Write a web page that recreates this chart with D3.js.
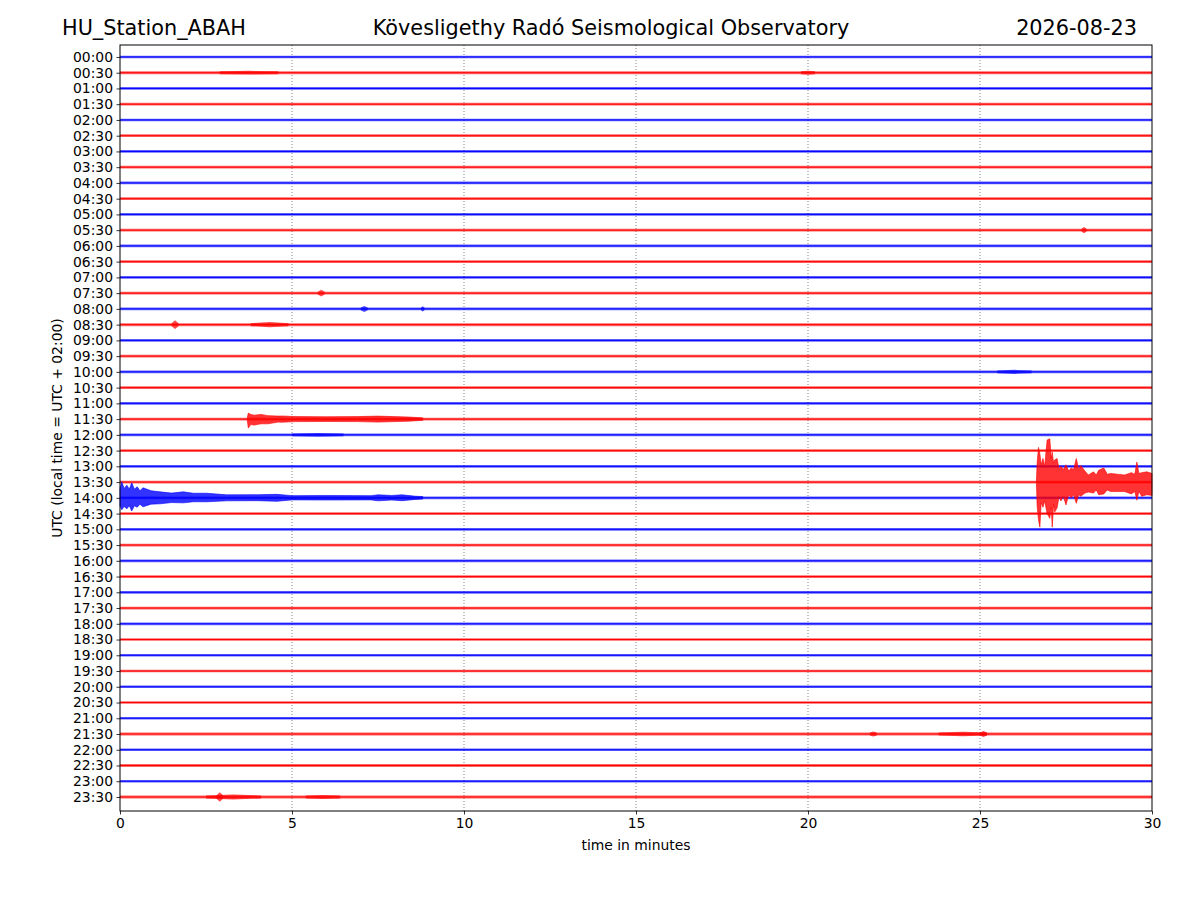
<!DOCTYPE html>
<head>
  <meta charset="utf-8">
  <style>
    body { margin: 0; background: #fff; }
    svg { font-family: "DejaVu Sans", sans-serif; }
    .title { font-size: 20.8px; fill: #000; }
    .tick text { font-family: "DejaVu Sans", sans-serif; font-size: 13.9px; fill: #000; }
    .lbl { font-size: 13.9px; fill: #000; }
    .grid line { stroke: #000; stroke-width: 0.6px; stroke-dasharray: 1,2; opacity: 0.8; }
  </style>
</head>
<body>
  <svg></svg>
  <script src="https://d3js.org/d3.v7.min.js"></script>
  <script type="text/javascript">
  // one trace per half hour
  const traceLabels = [
    "00:00","00:30","01:00","01:30","02:00","02:30","03:00","03:30",
    "04:00","04:30","05:00","05:30","06:00","06:30","07:00","07:30",
    "08:00","08:30","09:00","09:30","10:00","10:30","11:00","11:30",
    "12:00","12:30","13:00","13:30","14:00","14:30","15:00","15:30",
    "16:00","16:30","17:00","17:30","18:00","18:30","19:00","19:30",
    "20:00","20:30","21:00","21:30","22:00","22:30","23:00","23:30"
  ];
  const traceColors = ["#0000ff", "#ff0000"];

  // background noise half-width of each trace, in units of trace spacing
  const noiseLevel = [
    0.085,0.095,0.09,0.09,0.08,0.09,0.085,0.085,
    0.085,0.09,0.085,0.09,0.085,0.09,0.09,0.09,
    0.085,0.095,0.085,0.09,0.09,0.085,0.085,0.09,
    0.09,0.085,0.085,0.085,0.09,0.085,0.085,0.09,
    0.085,0.085,0.085,0.09,0.085,0.085,0.085,0.085,
    0.08,0.085,0.085,0.09,0.085,0.09,0.085,0.09
  ];

  // envelopes of the larger events: [minute, up, down]
  const event1330 = [
    [26.64,0.08,0.08],[26.66,1.2,1.5],[26.7,2.2,2.4],[26.74,1.8,2.86],
    [26.78,1.1,1.3],[26.83,1.5,1.6],[26.88,1.0,1.2],[26.95,2.67,2.0],
    [27.03,2.75,2.3],[27.07,1.5,1.6],[27.1,1.9,2.86],[27.14,1.2,1.4],
    [27.17,1.4,1.9],[27.24,1.5,1.65],[27.3,0.8,0.9],[27.35,1.0,1.2],
    [27.42,0.8,0.9],[27.5,1.1,1.45],[27.58,0.7,0.8],[27.65,0.9,1.0],
    [27.72,0.8,0.8],[27.8,1.5,1.35],[27.87,0.8,0.8],[27.93,1.05,0.9],
    [28.05,0.7,0.7],[28.15,0.45,0.63],[28.3,0.65,0.7],[28.38,0.45,0.5],
    [28.45,0.75,0.8],[28.6,0.9,0.75],[28.7,0.5,0.5],[28.8,0.55,0.6],
    [29.0,0.5,0.6],[29.2,0.45,0.6],[29.4,0.6,0.75],[29.5,0.5,0.6],
    [29.56,1.27,1.15],[29.62,0.55,0.6],[29.7,0.6,0.9],[29.85,0.65,0.8],
    [30,0.55,0.85]
  ];
  const event1400 = [
    [0.0,0.6,0.5],[0.05,1.02,0.76],[0.12,0.6,0.55],[0.2,0.8,0.7],
    [0.27,0.55,0.5],[0.34,0.95,0.83],[0.42,0.55,0.5],[0.5,0.7,0.6],
    [0.58,0.45,0.4],[0.67,0.64,0.57],[0.9,0.45,0.4],[1.16,0.38,0.38],
    [1.5,0.3,0.3],[1.84,0.38,0.32],[2.13,0.29,0.25],[2.52,0.29,0.25],
    [3.1,0.19,0.19],[4.0,0.2,0.18],[4.56,0.22,0.22],[5.0,0.14,0.13],
    [6.0,0.15,0.14],[7.3,0.14,0.13],[7.5,0.19,0.19],[7.9,0.15,0.14],
    [8.2,0.19,0.18],[8.6,0.1,0.1],[8.8,0.08,0.08]
  ];
  const event1130 = [
    [3.7,0.08,0.08],[3.73,0.38,0.57],[3.8,0.3,0.35],[3.9,0.25,0.38],
    [4.1,0.3,0.3],[4.3,0.22,0.3],[4.6,0.19,0.19],[4.7,0.2,0.2],
    [5.1,0.16,0.16],[6.0,0.15,0.15],[6.9,0.16,0.16],[7.5,0.19,0.19],
    [8.4,0.13,0.13],[8.8,0.08,0.08]
  ];
  const events = [
    {trace: 27, env: event1330},
    {trace: 28, env: event1400},
    {trace: 23, env: event1130}
  ];

  // short bursts: [trace, start minute, end minute, peak]
  const bursts = [
    [15, 5.75, 5.95, 0.22],
    [16, 7.0, 7.2, 0.19],
    [16, 8.75, 8.85, 0.16],
    [17, 1.5, 1.7, 0.28],
    [17, 3.8, 4.9, 0.17],
    [11, 27.95, 28.1, 0.2],
    [47, 2.5, 4.1, 0.16],
    [47, 2.8, 3.0, 0.3],
    [47, 5.4, 6.4, 0.13],
    [43, 21.8, 22.0, 0.16],
    [43, 23.8, 25.2, 0.14],
    [43, 25.0, 25.2, 0.19],
    [1, 2.9, 4.6, 0.12],
    [1, 19.8, 20.2, 0.13],
    [24, 5.0, 6.5, 0.12],
    [20, 25.5, 26.5, 0.13]
  ];

  const xTicks = [0, 5, 10, 15, 20, 25, 30];

  const width = 1200, height = 900;
  const svg = d3.select('svg').attr('width', width).attr('height', height);

  const x = d3.scaleLinear().domain([0, 30]).range([120, 1152]);
  const y = d3.scaleLinear().domain([-0.76, 47.89]).range([45, 811]);

  // grid
  svg.append('g').classed('grid', true)
    .selectAll('line')
    .data(xTicks.slice(1, -1))
    .enter().append('line')
      .attr('x1', d => x(d)).attr('x2', d => x(d))
      .attr('y1', y.range()[0]).attr('y2', y.range()[1]);

  const traces = svg.append('g').classed('traces', true);

  const band = d3.area()
    .x(d => x(d[0]))
    .y0(d => y(d[3] + d[2]))
    .y1(d => y(d[3] - d[1]));

  traceLabels.forEach(function(lab, i) {
    let c = traceColors[i % 2];
    let n = noiseLevel[i];
    traces.append('path')
      .attr('d', band([[0, n, n, i], [30, n, n, i]]))
      .attr('fill', c).attr('fill-opacity', 0.6);
    traces.append('line')
      .attr('x1', x(0)).attr('x2', x(30))
      .attr('y1', y(i)).attr('y2', y(i))
      .attr('stroke', c).attr('stroke-width', 1);
  });

  bursts.forEach(function(b) {
    let i = b[0], n = noiseLevel[i];
    let pts = [[b[1], n, n, i], [(b[1] + b[2]) / 2, b[3], b[3], i], [b[2], n, n, i]];
    traces.append('path')
      .attr('d', band(pts))
      .attr('fill', traceColors[i % 2]).attr('fill-opacity', 0.7);
  });

  events.forEach(function(e) {
    let pts = e.env.map(p => [p[0], p[1], p[2], e.trace]);
    traces.append('path')
      .attr('d', band(pts))
      .attr('fill', traceColors[e.trace % 2]).attr('fill-opacity', 0.8)
      .attr('stroke', traceColors[e.trace % 2]).attr('stroke-width', 0.6);
  });

  // axes
  const xAxis = d3.axisBottom(x).tickValues(xTicks).tickSize(3.5).tickPadding(3.5).tickFormat(d3.format('d'));
  const yAxis = d3.axisLeft(y).tickValues(d3.range(traceLabels.length)).tickSize(3.5).tickPadding(3.5)
    .tickFormat(i => traceLabels[i]);

  svg.append('g').attr('transform', 'translate(0,' + y.range()[1] + ')').call(xAxis)
    .call(g => g.attr('font-family', null).attr('font-size', null))
    .call(g => g.select('.domain').remove());
  svg.append('g').attr('transform', 'translate(' + x.range()[0] + ',0)').call(yAxis)
    .call(g => g.attr('font-family', null).attr('font-size', null))
    .call(g => g.select('.domain').remove());
  svg.selectAll('.tick line').attr('stroke', '#000').attr('stroke-width', 0.8);

  svg.append('rect')
    .attr('x', x.range()[0]).attr('y', y.range()[0])
    .attr('width', x.range()[1] - x.range()[0]).attr('height', y.range()[1] - y.range()[0])
    .attr('fill', 'none').attr('stroke', '#000').attr('stroke-width', 1);

  // titles
  svg.append('text').classed('title', true).attr('x', 62).attr('y', 35).text('HU_Station_ABAH');
  svg.append('text').classed('title', true).attr('x', 611).attr('y', 35).attr('text-anchor', 'middle')
    .text('Kövesligethy Radó Seismological Observatory');
  svg.append('text').classed('title', true).attr('x', 1137).attr('y', 35).attr('text-anchor', 'end')
    .text('2026-08-23');

  svg.append('text').classed('lbl', true).attr('x', 636).attr('y', 850).attr('text-anchor', 'middle')
    .text('time in minutes');
  svg.append('text').classed('lbl', true).attr('text-anchor', 'middle')
    .attr('transform', 'translate(62,428) rotate(-90)')
    .text('UTC (local time = UTC + 02:00)');
  </script>
</body>
